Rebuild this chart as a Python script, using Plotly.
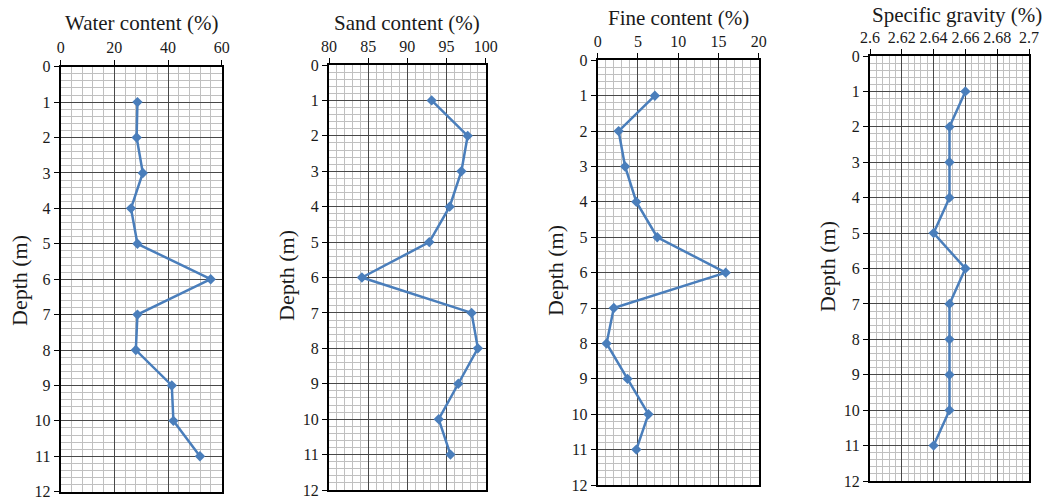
import plotly.graph_objects as go

# Soil profile data (depth in metres)
depth = [1, 2, 3, 4, 5, 6, 7, 8, 9, 10, 11]
water_content = [28.6, 28.3, 30.6, 26.2, 28.6, 55.9, 28.6, 28.0, 41.4, 42.0, 51.9]
sand_content = [93.1, 97.7, 96.9, 95.4, 92.8, 84.2, 98.2, 99.0, 96.5, 94.0, 95.5]
fine_content = [7.1, 2.6, 3.4, 4.8, 7.4, 15.9, 2.0, 1.1, 3.7, 6.3, 4.8]
specific_gravity = [2.66, 2.65, 2.65, 2.65, 2.64, 2.66, 2.65, 2.65, 2.65, 2.65, 2.64]

panel_titles = ["Water content (%)", "Sand content (%)", "Fine content (%)", "Specific gravity (%)"]
depth_title = "Depth (m)"
depth_ticks = list(range(0, 13))

water_ticks = [0, 20, 40, 60]
sand_ticks = [80, 85, 90, 95, 100]
fine_ticks = [0, 5, 10, 15, 20]
sg_ticks = [2.6, 2.62, 2.64, 2.66, 2.68, 2.7]
sg_ticktext = ["2.6", "2.62", "2.64", "2.66", "2.68", "2.7"]

W, H = 1049, 502
FONT = "Liberation Serif"
TEXT = "#1a1a1a"
LINE = "#4a7ebb"


def px(x):
    return x / W


def py(y):
    return 1 - y / H


# plot-area boxes in pixels: left, right, top, bottom
boxes = [
    (60.7, 221.7, 66.7, 491.7),
    (329.0, 485.7, 65.0, 490.0),
    (597.7, 758.7, 60.3, 485.0),
    (870.0, 1029.0, 56.0, 481.0),
]
x_specs = [
    dict(range=[0, 60], tickvals=water_ticks, ticktext=[str(v) for v in water_ticks], minor_dtick=4, minor_tick0=0),
    dict(range=[80, 100], tickvals=sand_ticks, ticktext=[str(v) for v in sand_ticks], minor_dtick=1, minor_tick0=80),
    dict(range=[0, 20], tickvals=fine_ticks, ticktext=[str(v) for v in fine_ticks], minor_dtick=1, minor_tick0=0),
    dict(range=[2.6, 2.7], tickvals=sg_ticks, ticktext=sg_ticktext, minor_dtick=0.004, minor_tick0=2.6),
]
series = [water_content, sand_content, fine_content, specific_gravity]
title_pos = [(141, 23), (407, 23), (678, 18), (957, 15)]
ytitle_pos = [(19, 281), (286, 276), (555, 271), (827, 267)]

fig = go.Figure()
layout = dict(
    width=W, height=H,
    margin=dict(l=0, r=0, t=0, b=0),
    paper_bgcolor="white", plot_bgcolor="white",
    showlegend=False,
    font=dict(family=FONT, color=TEXT),
)
annotations = []

for i, (box, xs, vals) in enumerate(zip(boxes, x_specs, series)):
    n = "" if i == 0 else str(i + 1)
    l, r, t, b = box
    fig.add_trace(go.Scatter(
        x=vals, y=depth, mode="lines+markers",
        line=dict(color=LINE, width=2.5),
        marker=dict(symbol="diamond", size=8, color=LINE),
        xaxis="x" + n, yaxis="y" + n,
    ))
    layout["xaxis" + n] = dict(
        domain=[px(l), px(r)], anchor="y" + n, side="top",
        range=xs["range"], tickmode="array", tickvals=xs["tickvals"], ticktext=xs["ticktext"],
        showgrid=True, gridcolor="#484848", gridwidth=1,
        minor=dict(dtick=xs["minor_dtick"], tick0=xs["minor_tick0"], showgrid=True,
                   gridcolor="#c0c0c0", gridwidth=1, ticks=""),
        showline=True, linecolor="black", linewidth=2, mirror=True,
        ticks="outside", ticklen=5, tickcolor="black", tickwidth=1,
        tickfont=dict(family=FONT, size=16, color=TEXT),
        zeroline=False, fixedrange=True, automargin=False,
    )
    layout["yaxis" + n] = dict(
        domain=[py(b), py(t)], anchor="x" + n,
        range=[12, 0], tickmode="array", tickvals=depth_ticks,
        ticktext=[str(v) for v in depth_ticks],
        showgrid=True, gridcolor="#484848", gridwidth=1,
        minor=dict(dtick=0.2, tick0=0, showgrid=True, gridcolor="#c0c0c0", gridwidth=1, ticks=""),
        showline=True, linecolor="black", linewidth=2, mirror=True,
        ticks="outside", ticklen=5, tickcolor="black", tickwidth=1,
        tickfont=dict(family=FONT, size=16, color=TEXT),
        zeroline=False, fixedrange=True, automargin=False,
    )
    tx, ty = title_pos[i]
    annotations.append(dict(
        text=panel_titles[i], x=px(tx), y=py(ty), xref="paper", yref="paper",
        xanchor="center", yanchor="middle", showarrow=False,
        font=dict(family=FONT, size=21, color=TEXT),
    ))
    yx, yy = ytitle_pos[i]
    annotations.append(dict(
        text=depth_title, x=px(yx), y=py(yy), xref="paper", yref="paper",
        xanchor="center", yanchor="middle", showarrow=False, textangle=-90,
        font=dict(family=FONT, size=22, color=TEXT),
    ))

layout["annotations"] = annotations
fig.update_layout(**layout)
# keep the page edge-to-edge so the figure sits at the window origin
fig.write_html("out.html", post_script="document.body.style.margin='0';")
